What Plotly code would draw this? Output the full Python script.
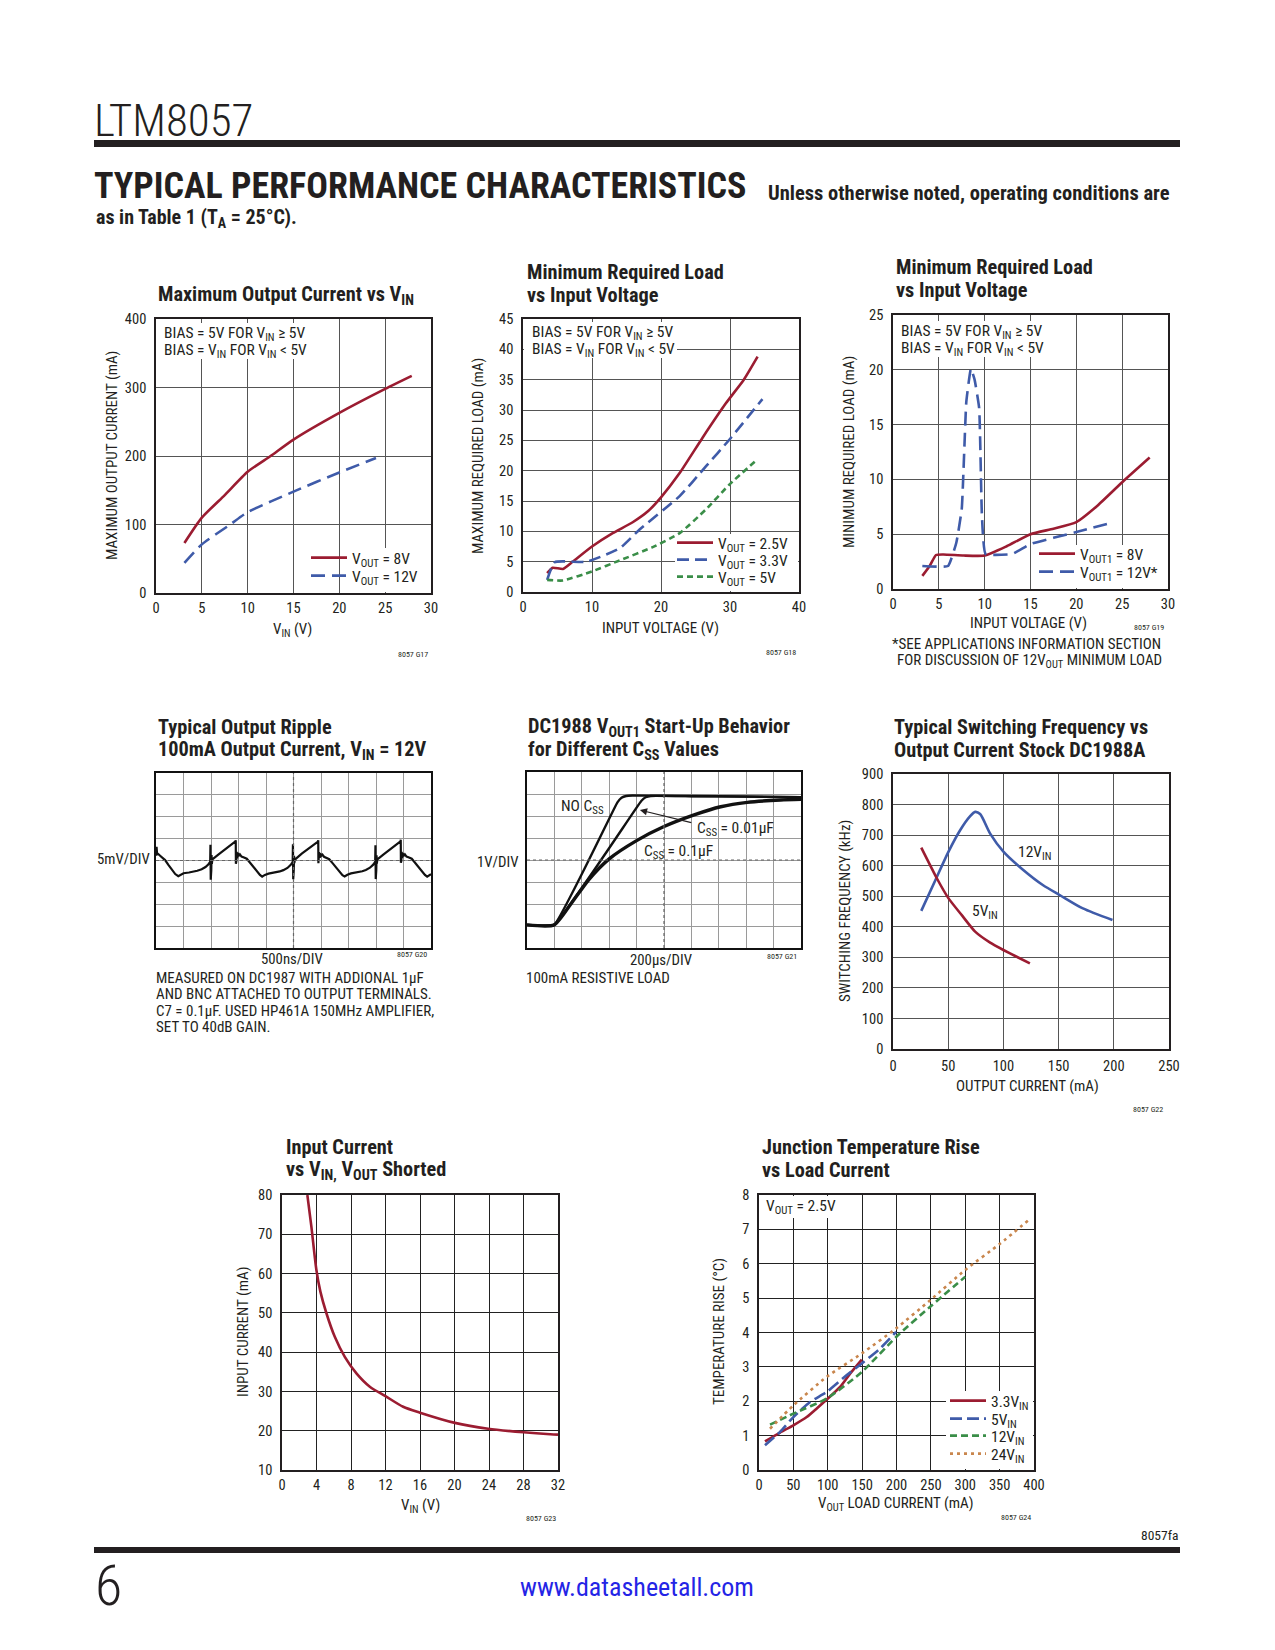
import plotly.graph_objects as go

# Page is 1275x1650; the browser body keeps its default 8px margin,
# so the figure is 16px smaller and every page position is shifted by 8px.
PAGE_W, PAGE_H = 1275, 1650
OFF = 8
W, H = PAGE_W - 2 * OFF, PAGE_H - 2 * OFF

FONT = "Liberation Sans Narrow, Arial Narrow, Roboto Condensed, Liberation Sans, sans-serif"
TXT = "#231f20"
GRID = "#555555"
RED = "#9b1c31"
BLUE = "#3f5ba9"
GREEN = "#3a8e48"
ORANGE = "#c9864d"

# ---------------- data ----------------
# G17 Maximum output current vs VIN
g17_vin_8 = [3.1, 5.0, 7.5, 10.0, 12.5, 15.0, 20.0, 25.0, 27.9]
g17_i_8 = [73, 110, 143, 177, 200, 224, 263, 298, 317]
g17_vin_12 = [3.1, 5.0, 8.1, 10.0, 15.0, 20.0, 24.0]
g17_i_12 = [44, 71, 100, 118, 148, 176, 197]

# G18 Minimum required load vs input voltage
g18_v_25 = [3.5, 4.3, 5.8, 7.2, 10.0, 13.0, 15.9, 18.1, 20.0, 22.7, 26.0, 29.4, 32.0, 34.0]
g18_l_25 = [3.1, 4.0, 3.8, 5.0, 7.5, 9.7, 11.5, 13.3, 15.6, 19.6, 25.4, 31.1, 35.0, 38.8]
g18_v_33 = [3.5, 4.6, 9.2, 14.0, 16.9, 22.7, 26.5, 29.9, 34.7]
g18_l_33 = [2.0, 4.9, 5.0, 7.2, 10.3, 15.8, 20.7, 25.1, 31.8]
g18_v_5 = [3.5, 5.8, 10.0, 14.0, 18.8, 22.7, 26.5, 29.9, 34.0]
g18_l_5 = [2.0, 1.9, 3.4, 5.2, 7.4, 9.7, 13.6, 17.7, 21.9]

# G19 Minimum required load vs input voltage (DC1988)
g19_v_8 = [3.2, 4.0, 4.7, 5.5, 7.7, 10.0, 12.4, 15.0, 17.5, 20.0, 22.3, 25.2, 28.0]
g19_l_8 = [1.2, 2.1, 3.1, 3.15, 3.05, 3.05, 3.9, 5.0, 5.5, 6.1, 7.6, 9.9, 12.0]
g19_v_12 = [3.2, 6.0, 6.9, 7.5, 8.0, 8.5, 8.9, 9.4, 9.7, 10.1, 13.0, 15.0, 20.0, 24.1]
g19_l_12 = [2.1, 2.1, 4.2, 7.3, 17.1, 20.1, 19.1, 16.5, 6.7, 3.2, 3.2, 4.1, 5.2, 6.1]

# G20 Output ripple (scope divisions: time 0..10, volts -4..4 from centre)
g20_t = [0.00, 0.02, 0.04, 0.08, 0.15, 0.25, 0.33, 0.45, 0.57, 0.70, 0.81, 0.90, 1.00, 1.20, 1.36, 1.50, 1.66, 1.80, 1.90, 1.97,
         1.98, 1.99, 2.00, 2.01, 2.02, 2.03, 2.05, 2.30, 2.60, 2.89,
         2.90, 2.905, 2.91, 2.92, 2.93, 2.95, 2.97, 3.00, 3.05, 3.11,
         3.20, 3.30, 3.42, 3.54, 3.66, 3.78, 3.86, 3.96, 4.09, 4.25, 4.39, 4.50, 4.63, 4.78, 4.90, 4.97,
         4.98, 4.99, 5.00, 5.01, 5.02, 5.03, 5.05, 5.30, 5.60, 5.89,
         5.90, 5.905, 5.91, 5.92, 5.93, 5.95, 5.97, 6.00, 6.05, 6.11,
         6.20, 6.30, 6.42, 6.54, 6.66, 6.78, 6.86, 6.96, 7.09, 7.25, 7.39, 7.50, 7.63, 7.78, 7.90, 7.97,
         7.98, 7.99, 8.00, 8.01, 8.02, 8.03, 8.05, 8.30, 8.60, 8.89,
         8.90, 8.905, 8.91, 8.92, 8.93, 8.95, 8.97, 9.00, 9.05, 9.11,
         9.20, 9.30, 9.42, 9.54, 9.66, 9.78, 9.86, 9.93, 10.00]
g20_v = [0.35, 0.62, 0.28, 0.30, 0.22, 0.12, 0.02, -0.20, -0.42, -0.62, -0.72, -0.66, -0.58, -0.55, -0.52, -0.47, -0.40, -0.30, -0.18, -0.06,
         0.72, -0.88, 0.45, -0.45, 0.25, -0.15, 0.05, 0.30, 0.58, 0.87,
         0.92, -0.15, 0.55, -0.05, 0.40, 0.10, 0.35, 0.20, 0.28, 0.18,
         0.14, 0.08, -0.10, -0.30, -0.50, -0.66, -0.74, -0.66, -0.60, -0.57, -0.54, -0.50, -0.44, -0.34, -0.20, -0.07,
         0.74, -0.86, 0.42, -0.42, 0.22, -0.12, 0.04, 0.31, 0.57, 0.86,
         0.93, -0.12, 0.52, -0.02, 0.38, 0.12, 0.33, 0.21, 0.27, 0.17,
         0.13, 0.06, -0.12, -0.32, -0.52, -0.67, -0.73, -0.65, -0.59, -0.56, -0.53, -0.49, -0.43, -0.33, -0.19, -0.06,
         0.70, -0.85, 0.44, -0.44, 0.24, -0.14, 0.05, 0.30, 0.58, 0.87,
         0.95, -0.10, 0.55, -0.03, 0.40, 0.11, 0.34, 0.20, 0.28, 0.18,
         0.14, 0.08, -0.10, -0.30, -0.50, -0.66, -0.74, -0.68, -0.62]

# G21 Start-up behaviour (scope divisions: time 0..10, volts 0..8 from bottom)
g21_t_none = [0.0, 0.99, 3.30, 3.45, 3.62, 3.85, 5.0, 7.0, 10.0]
g21_v_none = [1.05, 1.05, 6.62, 6.83, 6.91, 6.93, 6.92, 6.90, 6.86]
g21_t_001 = [0.0, 0.99, 4.17, 4.33, 4.52, 6.0, 8.0, 10.0]
g21_v_001 = [1.05, 1.05, 6.68, 6.85, 6.91, 6.90, 6.88, 6.85]
g21_t_01 = [0.0, 0.99, 1.60, 2.25, 3.0, 4.0, 5.0, 6.1, 7.07, 8.04, 9.26, 10.0]
g21_v_01 = [1.05, 1.05, 2.00, 3.10, 4.05, 4.88, 5.52, 6.05, 6.42, 6.62, 6.73, 6.76]

# G22 Switching frequency vs output current
g22_i_12 = [25.6, 39.8, 50.3, 60.8, 69.9, 74.4, 78.9, 88.0, 100.0, 118.0, 136.0, 151.0, 172.0, 198.8]
g22_f_12 = [452, 564, 646, 716, 762, 776, 769, 705, 646, 586, 536, 504, 460, 422]
g22_i_5 = [25.6, 39.8, 50.3, 62.3, 74.4, 88.0, 100.0, 112.0, 124.0]
g22_f_5 = [659, 558, 493, 438, 384, 348, 324, 302, 280]

# G23 Input current vs VIN, VOUT shorted
g23_vin = [2.94, 3.41, 3.99, 4.45, 5.15, 6.12, 7.28, 8.63, 10.18, 12.0, 14.05, 16.0, 20.05, 23.9, 28.0, 31.1, 32.0]
g23_i = [80.0, 71.9, 60.9, 55.4, 49.9, 43.9, 38.8, 34.6, 31.2, 28.8, 26.1, 24.6, 22.0, 20.5, 19.6, 19.1, 19.0]

# G24 Junction temperature rise vs load current
g24_i_33 = [8.7, 30.6, 50, 69.4, 84, 98.5, 118, 132.5, 149.5]
g24_t_33 = [0.83, 1.09, 1.30, 1.54, 1.79, 2.05, 2.42, 2.80, 3.21]
g24_i_5 = [8.7, 30.6, 50, 74.3, 98.5, 127.7, 149.5, 176, 199.5]
g24_t_5 = [0.72, 1.11, 1.54, 1.98, 2.27, 2.76, 3.10, 3.53, 4.02]
g24_i_12 = [16, 50, 98.5, 149.5, 199.5, 249, 300]
g24_t_12 = [1.32, 1.64, 2.08, 2.85, 3.87, 4.75, 5.62]
g24_i_24 = [16, 50, 98.5, 149.5, 199.5, 249, 300, 351, 394.6]
g24_t_24 = [1.20, 1.88, 2.71, 3.39, 4.12, 4.94, 5.82, 6.59, 7.31]

# ---------------- layout helpers (page pixel -> paper fraction) ----------------
def px(x):
    return (x - OFF) / W

def py(y):
    return 1 - (y - OFF) / H

def xdom(a, b):
    return [px(a), px(b)]

def ydom(top, bottom):
    return [py(bottom), py(top)]

def xr_(n):
    return "x" if n == 1 else "x%d" % n

def yr_(n):
    return "y" if n == 1 else "y%d" % n

def xk(n):
    return "xaxis" if n == 1 else "xaxis%d" % n

def yk(n):
    return "yaxis" if n == 1 else "yaxis%d" % n

fig = go.Figure()
annotations = []
shapes = []
legends = {}
AXES = {}

def txt(x, y, s, size=15, anchor="left", bold=False, color=TXT, yanchor="middle", angle=0, weight=None):
    f = dict(size=size, family=FONT, color=color)
    if weight:
        f["weight"] = weight
    annotations.append(dict(xref="paper", yref="paper", x=px(x), y=py(y), text=("<b>%s</b>" % s) if bold else s,
                            showarrow=False, xanchor=anchor, yanchor=yanchor, textangle=angle, font=f))

def axtxt(n, x, y, s, anchor="left", size=15.5):
    annotations.append(dict(xref=xr_(n), yref=yr_(n), x=x, y=y, text=s, showarrow=False,
                            xanchor=anchor, yanchor="middle", font=dict(size=size, family=FONT, color=TXT)))

def white_box(n, x0, y0, x1, y1):
    """white panel above the grid but below the curves of subplot n (given in page px)."""
    (bx0, by0, bx1, by1), (xa, xb), (ya, yb) = AXES[n]
    def dx(p):
        return xa + (p - bx0) / (bx1 - bx0) * (xb - xa)
    def dy(p):
        return ya + (by1 - p) / (by1 - by0) * (yb - ya)
    shapes.append(dict(type="rect", xref=xr_(n), yref=yr_(n), layer="between",
                       x0=dx(x0), x1=dx(x1), y0=dy(y1), y1=dy(y0),
                       fillcolor="white", line=dict(width=0)))

def data_axes(n, box, xr, xdt, yr, ydt, grid=GRID, gw=1.3, xstand=1):
    AXES[n] = (box, xr, yr)
    x0, y0, x1, y1 = box
    common = dict(showgrid=True, gridcolor=grid, gridwidth=gw, showline=True, mirror=True,
                  linecolor=TXT, linewidth=1.6, zeroline=False, ticks="", automargin=False,
                  tickfont=dict(size=14.5, family=FONT, color=TXT), fixedrange=True)
    xa = dict(common, domain=xdom(x0, x1), range=xr, dtick=xdt, tick0=xr[0], anchor=yr_(n),
              ticklabelstandoff=xstand)
    ya = dict(common, domain=ydom(y0, y1), range=yr, dtick=ydt, tick0=yr[0], anchor=xr_(n),
              ticklabelstandoff=5)
    fig.update_layout(**{xk(n): xa, yk(n): ya})

def scope_axes(n, box, yr):
    AXES[n] = (box, [0, 10], yr)
    x0, y0, x1, y1 = box
    common = dict(showgrid=True, gridcolor="#9a9a9a", gridwidth=1, showline=True, mirror=True, automargin=False,
                  linecolor="#111111", linewidth=2.4, zeroline=False, ticks="", showticklabels=False, fixedrange=True)
    fig.update_layout(**{
        xk(n): dict(common, domain=xdom(x0, x1), range=[0, 10], dtick=1, tick0=0, anchor=yr_(n)),
        yk(n): dict(common, domain=ydom(y0, y1), range=yr, dtick=1, tick0=yr[0], anchor=xr_(n)),
    })
    mid = (yr[0] + yr[1]) / 2
    shapes.append(dict(type="line", xref=xr_(n), yref=yr_(n), x0=5, x1=5, y0=yr[0], y1=yr[1],
                       line=dict(color="#666666", width=1.2, dash="dot")))
    shapes.append(dict(type="line", xref=xr_(n), yref=yr_(n), x0=0, x1=10, y0=mid, y1=mid,
                       line=dict(color="#666666", width=1.2, dash="dot")))

def line(n, x, y, color, width=2.6, dash="solid", name=None, leg=None, smooth=0.6, shape="spline"):
    """leg = (sample_left_px, row_centre_px) -> one single-item legend per series."""
    legend_id = None
    if leg is not None:
        legend_id = "legend" if not legends else "legend%d" % (len(legends) + 1)
        legends[legend_id] = dict(x=px(leg[0] - 6), y=py(leg[1]), xanchor="left", yanchor="middle",
                                  bgcolor="rgba(0,0,0,0)", borderwidth=0,
                                  font=dict(size=15.5, family=FONT, color=TXT),
                                  itemwidth=36, itemclick=False, itemdoubleclick=False)
    fig.add_trace(go.Scatter(x=x, y=y, xaxis=xr_(n), yaxis=yr_(n), mode="lines",
                             line=dict(color=color, width=width, dash=dash, shape=shape,
                                       smoothing=smooth if shape == "spline" else None),
                             name=name or "", showlegend=legend_id is not None,
                             legend=legend_id or "legend", hoverinfo="skip"))

# ---------------- chart boxes (page px) ----------------
B1 = (156, 319, 431, 593)
B2 = (523, 319, 799, 592)
B3 = (893, 315, 1168, 589)
B4 = (156, 773, 431, 948)
B5 = (527, 772, 801, 948)
B6 = (893, 774, 1169, 1049)
B7 = (282, 1195, 558, 1470)
B8 = (759, 1195, 1034, 1470)

TS = 20.3   # chart title size
AS = 15     # axis title size

# Chart 1
data_axes(1, B1, [0, 30], 5, [0, 400], 100)
line(1, g17_vin_8, g17_i_8, RED, name="V<sub>OUT</sub> = 8V", leg=(312, 558))
line(1, g17_vin_12, g17_i_12, BLUE, dash="14px,7px", name="V<sub>OUT</sub> = 12V", leg=(312, 576))
white_box(1, 157, 323, 310, 359)
white_box(1, 352, 548, 430, 592)
txt(156, 295, "Maximum Output Current vs V<sub>IN</sub>", size=TS, bold=True)
txt(162, 334, "BIAS = 5V FOR V<sub>IN</sub> ≥ 5V", size=15.5)
txt(162, 351, "BIAS = V<sub>IN</sub> FOR V<sub>IN</sub> < 5V", size=15.5)
txt(112, 456, "MAXIMUM OUTPUT CURRENT (mA)", size=AS, anchor="center", angle=-90)
txt(292, 630, "V<sub>IN</sub> (V)", size=AS, anchor="center")
txt(413, 654, "8057 G17", size=8, anchor="center")

# Chart 2
data_axes(2, B2, [0, 40], 10, [0, 45], 5)
line(2, g18_v_25, g18_l_25, RED, name="V<sub>OUT</sub> = 2.5V", leg=(678, 543), smooth=0.5)
line(2, g18_v_33, g18_l_33, BLUE, dash="12px,6px", name="V<sub>OUT</sub> = 3.3V", leg=(678, 560), smooth=0.5)
line(2, g18_v_5, g18_l_5, GREEN, dash="6px,4px", name="V<sub>OUT</sub> = 5V", leg=(678, 577), smooth=0.5)
white_box(2, 524, 322, 677, 358)
white_box(2, 675, 534, 798, 591)
txt(525, 272, "Minimum Required Load", size=TS, bold=True)
txt(525, 295, "vs Input Voltage", size=TS, bold=True)
txt(530, 333, "BIAS = 5V FOR V<sub>IN</sub> ≥ 5V", size=15.5)
txt(530, 350, "BIAS = V<sub>IN</sub> FOR V<sub>IN</sub> < 5V", size=15.5)
txt(478, 456, "MAXIMUM REQUIRED LOAD (mA)", size=AS, anchor="center", angle=-90)
txt(660, 628, "INPUT VOLTAGE (V)", size=AS, anchor="center")
txt(781, 652, "8057 G18", size=8, anchor="center")

# Chart 3
data_axes(3, B3, [0, 30], 5, [0, 25], 5)
line(3, g19_v_8, g19_l_8, RED, name="V<sub>OUT1</sub> = 8V", leg=(1040, 554), smooth=0.5)
line(3, g19_v_12, g19_l_12, BLUE, dash="14px,7px", name="V<sub>OUT1</sub> = 12V*", leg=(1040, 572), smooth=0.35)
white_box(3, 894, 321, 1046, 357)
white_box(3, 1036, 545, 1167, 588)
txt(894, 267, "Minimum Required Load", size=TS, bold=True)
txt(894, 290, "vs Input Voltage", size=TS, bold=True)
txt(899, 332, "BIAS = 5V FOR V<sub>IN</sub> ≥ 5V", size=15.5)
txt(899, 349, "BIAS = V<sub>IN</sub> FOR V<sub>IN</sub> < 5V", size=15.5)
txt(849, 452, "MINIMUM REQUIRED LOAD (mA)", size=AS, anchor="center", angle=-90)
txt(1028, 623, "INPUT VOLTAGE (V)", size=AS, anchor="center")
txt(1149, 627, "8057 G19", size=8, anchor="center")
txt(890, 644, "*SEE APPLICATIONS INFORMATION SECTION", size=15)
txt(895, 661, "FOR DISCUSSION OF 12V<sub>OUT</sub> MINIMUM LOAD", size=15)

# Chart 4 (scope ripple)
scope_axes(4, B4, [-4, 4])
line(4, g20_t, g20_v, "#111111", width=2.2, shape="linear")
txt(156, 727, "Typical Output Ripple", size=TS, bold=True)
txt(156, 750, "100mA Output Current, V<sub>IN</sub> = 12V", size=TS, bold=True)
txt(152, 859, "5mV/DIV", size=14.8, anchor="right")
txt(292, 959, "500ns/DIV", size=14.8, anchor="center")
txt(412, 954, "8057 G20", size=8, anchor="center")
txt(154, 978, "MEASURED ON DC1987 WITH ADDIONAL 1µF", size=15)
txt(154, 994, "AND BNC ATTACHED TO OUTPUT TERMINALS.", size=15)
txt(154, 1011, "C7 = 0.1µF. USED HP461A 150MHz AMPLIFIER,", size=15)
txt(154, 1027, "SET TO 40dB GAIN.", size=15)

# Chart 5 (scope start-up)
scope_axes(5, B5, [0, 8])
line(5, g21_t_none, g21_v_none, "#111111", width=2.4, smooth=0.3)
line(5, g21_t_001, g21_v_001, "#111111", width=2.4, smooth=0.3)
line(5, g21_t_01, g21_v_01, "#111111", width=3.4, smooth=0.6)
axtxt(5, 2.04, 6.42, "NO C<sub>SS</sub>", anchor="center")
axtxt(5, 6.13, 5.40, "C<sub>SS</sub> = 0.01µF")
axtxt(5, 4.19, 4.36, "C<sub>SS</sub> = 0.1µF")
annotations.append(dict(xref="x5", yref="y5", x=4.12, y=6.27, ax=6.05, ay=5.68, axref="x5", ayref="y5",
                        text="", showarrow=True, arrowhead=2, arrowsize=1.2, arrowwidth=1.2, arrowcolor=TXT))
txt(526, 727, "DC1988 V<sub>OUT1</sub> Start-Up Behavior", size=TS, bold=True)
txt(526, 750, "for Different C<sub>SS</sub> Values", size=TS, bold=True)
txt(521, 862, "1V/DIV", size=14.8, anchor="right")
txt(661, 960, "200µs/DIV", size=14.8, anchor="center")
txt(782, 956, "8057 G21", size=8, anchor="center")
txt(524, 978, "100mA RESISTIVE LOAD", size=15)

# Chart 6
data_axes(6, B6, [0, 250], 50, [0, 900], 100, xstand=3)
line(6, g22_i_12, g22_f_12, BLUE, smooth=0.7)
line(6, g22_i_5, g22_f_5, RED, smooth=0.5)
txt(892, 727, "Typical Switching Frequency vs", size=TS, bold=True)
txt(892, 750, "Output Current Stock DC1988A", size=TS, bold=True)
txt(1016, 853, "12V<sub>IN</sub>", size=15.5)
txt(970, 912, "5V<sub>IN</sub>", size=15.5)
txt(845, 911, "SWITCHING FREQUENCY (kHz)", size=AS, anchor="center", angle=-90)
txt(1027, 1086, "OUTPUT CURRENT (mA)", size=AS, anchor="center")
txt(1148, 1109, "8057 G22", size=8, anchor="center")

# Chart 7
data_axes(7, B7, [0, 32], 4, [10, 80], 10, grid="#222222", gw=1)
line(7, g23_vin, g23_i, RED, smooth=0.8)
txt(284, 1147, "Input Current", size=TS, bold=True)
txt(284, 1170, "vs V<sub>IN,</sub> V<sub>OUT</sub> Shorted", size=TS, bold=True)
txt(243, 1332, "INPUT CURRENT (mA)", size=AS, anchor="center", angle=-90)
txt(420, 1506, "V<sub>IN</sub> (V)", size=AS, anchor="center")
txt(541, 1518, "8057 G23", size=8, anchor="center")

# Chart 8
data_axes(8, B8, [0, 400], 50, [0, 8], 1, grid="#222222", gw=1)
line(8, g24_i_33, g24_t_33, RED, name="3.3V<sub>IN</sub>", leg=(951, 1401), smooth=0.6)
line(8, g24_i_5, g24_t_5, BLUE, dash="12px,5px", name="5V<sub>IN</sub>", leg=(951, 1419), smooth=0.6)
line(8, g24_i_12, g24_t_12, GREEN, dash="7px,4px", name="12V<sub>IN</sub>", leg=(951, 1436), smooth=0.6)
line(8, g24_i_24, g24_t_24, ORANGE, dash="3px,4px", name="24V<sub>IN</sub>", leg=(951, 1454), smooth=0.6)
white_box(8, 760, 1196, 836, 1218)
white_box(8, 946, 1391, 1033, 1469)
txt(760, 1147, "Junction Temperature Rise", size=TS, bold=True)
txt(760, 1170, "vs Load Current", size=TS, bold=True)
txt(764, 1207, "V<sub>OUT</sub> = 2.5V", size=15.5)
txt(719, 1332, "TEMPERATURE RISE (°C)", size=AS, anchor="center", angle=-90)
txt(896, 1504, "V<sub>OUT</sub> LOAD CURRENT (mA)", size=AS, anchor="center")
txt(1016, 1517, "8057 G24", size=8, anchor="center")

# ---------------- page header / footer ----------------
txt(92, 121, "LTM8057", size=45, weight=300)
shapes.append(dict(type="rect", xref="paper", yref="paper", x0=px(94), x1=px(1180), y0=py(147), y1=py(140),
                   fillcolor=TXT, line=dict(width=0)))
txt(92, 186, "TYPICAL PERFORMANCE CHARACTERISTICS", size=36, bold=True)
txt(766, 193, "Unless otherwise noted, operating conditions are", size=20.5, bold=True)
txt(94, 218, "as in Table 1 (T<sub>A</sub> = 25°C).", size=20, bold=True)
shapes.append(dict(type="rect", xref="paper", yref="paper", x0=px(94), x1=px(1180), y0=py(1553), y1=py(1547),
                   fillcolor=TXT, line=dict(width=0)))
txt(1180, 1535, "8057fa", size=13.5, anchor="right")
txt(93, 1586, "6", size=56, weight=300)
txt(637, 1587, "www.datasheetall.com", size=26, anchor="center", color="#2424e6")

fig.update_layout(
    width=W, height=H, margin=dict(l=0, r=0, t=0, b=0, pad=0, autoexpand=False),
    paper_bgcolor="white", plot_bgcolor="white",
    annotations=annotations, shapes=shapes,
    font=dict(family=FONT, color=TXT),
    **legends,
)

fig.write_html("out.html", config={"responsive": False, "displayModeBar": False})
